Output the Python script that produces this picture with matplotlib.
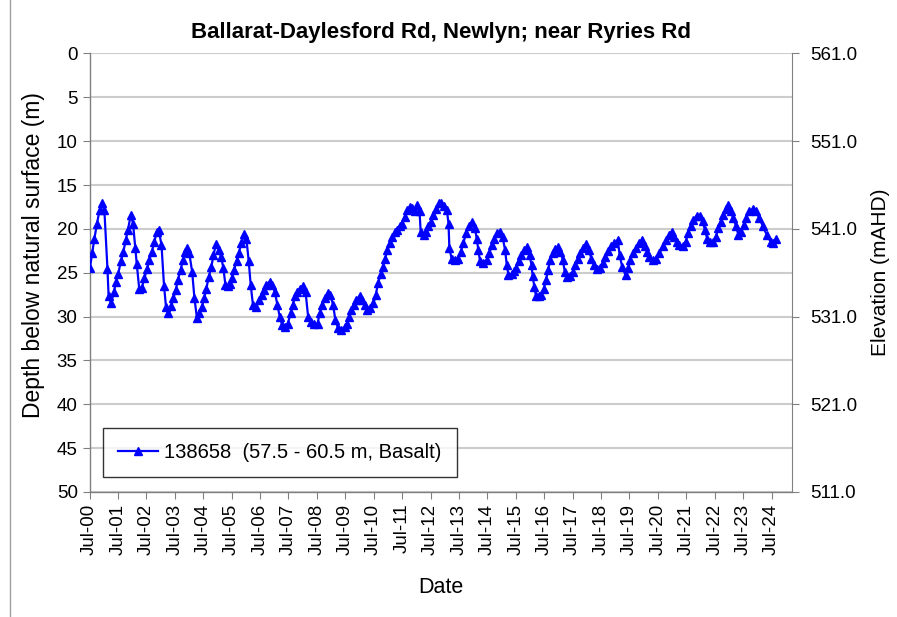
import matplotlib
matplotlib.use("Agg")
import matplotlib.pyplot as plt
import matplotlib.dates as mdates
import numpy as np
import pandas as pd

plt.rcParams['font.family'] = ['Liberation Sans', 'DejaVu Sans']

# Bore 138658 manual readings: decimal year, depth below natural surface (m)
dec_year = [
    2000.51, 2000.59, 2000.67, 2000.76, 2000.85, 2000.93, 2001.02, 2001.13, 2001.17, 2001.26,
    2001.35, 2001.43, 2001.51, 2001.60, 2001.69, 2001.77, 2001.85, 2001.95, 2002.03, 2002.11,
    2002.16, 2002.25, 2002.34, 2002.43, 2002.52, 2002.60, 2002.69, 2002.78, 2002.86, 2002.93,
    2003.03, 2003.12, 2003.19, 2003.26, 2003.37, 2003.45, 2003.53, 2003.61, 2003.70, 2003.78,
    2003.86, 2003.93, 2004.01, 2004.11, 2004.19, 2004.28, 2004.36, 2004.45, 2004.53, 2004.61,
    2004.69, 2004.78, 2004.86, 2004.95, 2005.04, 2005.13, 2005.21, 2005.28, 2005.36, 2005.43,
    2005.51, 2005.58, 2005.67, 2005.75, 2005.84, 2005.94, 2006.02, 2006.10, 2006.17, 2006.25,
    2006.37, 2006.45, 2006.55, 2006.64, 2006.72, 2006.84, 2006.93, 2007.02, 2007.11, 2007.19,
    2007.28, 2007.39, 2007.48, 2007.57, 2007.65, 2007.72, 2007.81, 2007.90, 2008.01, 2008.10,
    2008.19, 2008.28, 2008.40, 2008.52, 2008.60, 2008.69, 2008.78, 2008.89, 2008.97, 2009.07,
    2009.15, 2009.24, 2009.36, 2009.48, 2009.56, 2009.63, 2009.71, 2009.81, 2009.89, 2010.01,
    2010.10, 2010.18, 2010.27, 2010.38, 2010.49, 2010.57, 2010.65, 2010.75, 2010.82, 2010.90,
    2010.98, 2011.07, 2011.15, 2011.25, 2011.33, 2011.43, 2011.51, 2011.60, 2011.68, 2011.78,
    2011.86, 2011.94, 2012.03, 2012.11, 2012.15, 2012.25, 2012.34, 2012.42, 2012.51, 2012.60,
    2012.69, 2012.80, 2012.88, 2012.96, 2013.07, 2013.13, 2013.16, 2013.24, 2013.36, 2013.48,
    2013.56, 2013.65, 2013.75, 2013.85, 2013.97, 2014.06, 2014.12, 2014.18, 2014.24, 2014.36,
    2014.48, 2014.57, 2014.65, 2014.74, 2014.85, 2014.94, 2015.03, 2015.12, 2015.18, 2015.24,
    2015.36, 2015.44, 2015.51, 2015.60, 2015.69, 2015.78, 2015.89, 2015.98, 2016.05, 2016.09,
    2016.15, 2016.21, 2016.31, 2016.40, 2016.48, 2016.56, 2016.63, 2016.71, 2016.80, 2016.89,
    2016.99, 2017.07, 2017.15, 2017.22, 2017.30, 2017.42, 2017.50, 2017.59, 2017.68, 2017.77,
    2017.86, 2017.97, 2018.06, 2018.16, 2018.24, 2018.36, 2018.47, 2018.56, 2018.65, 2018.74,
    2018.85, 2018.97, 2019.09, 2019.15, 2019.24, 2019.36, 2019.45, 2019.53, 2019.62, 2019.73,
    2019.82, 2019.94, 2020.03, 2020.12, 2020.20, 2020.32, 2020.43, 2020.55, 2020.67, 2020.78,
    2020.89, 2020.99, 2021.08, 2021.16, 2021.25, 2021.37, 2021.47, 2021.56, 2021.65, 2021.74,
    2021.86, 2021.98, 2022.07, 2022.15, 2022.23, 2022.33, 2022.44, 2022.54, 2022.62, 2022.70,
    2022.80, 2022.89, 2022.98, 2023.06, 2023.15, 2023.25, 2023.33, 2023.41, 2023.51, 2023.60,
    2023.71, 2023.84, 2023.95, 2024.07, 2024.19, 2024.33, 2024.47, 2024.56, 2024.66,
]
depth_m = [
    24.5, 22.8, 21.1, 19.4, 17.9, 17.1, 17.8, 24.6, 27.7, 28.5,
    27.2, 26.1, 25.1, 23.7, 22.6, 21.3, 20.1, 18.4, 19.4, 22.2,
    24.0, 26.9, 26.7, 25.6, 24.6, 23.6, 22.6, 21.5, 20.3, 20.1,
    21.8, 26.5, 28.9, 29.6, 28.8, 27.9, 27.0, 25.8, 24.7, 23.6,
    22.6, 22.2, 22.8, 24.9, 27.9, 30.2, 29.6, 28.9, 27.9, 26.8,
    25.5, 24.4, 23.0, 21.7, 22.4, 23.2, 24.5, 26.4, 26.5, 26.3,
    25.6, 24.7, 23.7, 22.8, 21.6, 20.6, 21.2, 23.7, 26.4, 28.7,
    28.9, 28.1, 27.5, 27.0, 26.4, 26.0, 26.4, 27.2, 28.7, 30.0,
    31.0, 31.2, 30.8, 29.6, 28.7, 27.7, 27.2, 26.8, 26.5, 27.2,
    30.0, 30.6, 30.8, 30.8, 29.6, 28.7, 27.9, 27.3, 27.5, 28.7,
    30.4, 31.3, 31.5, 31.2, 30.8, 30.1, 29.3, 28.7, 28.1, 27.6,
    28.1, 28.7, 29.2, 29.0, 28.5, 27.5, 26.2, 25.1, 24.3, 23.4,
    22.4, 21.6, 20.9, 20.4, 20.1, 19.7, 19.4, 18.6, 17.8, 17.5,
    17.6, 18.0, 17.3, 18.0, 20.3, 20.7, 20.3, 19.7, 19.2, 18.4,
    17.7, 17.0, 17.1, 17.4, 17.8, 19.4, 22.2, 23.4, 23.6, 23.4,
    22.6, 21.6, 20.5, 19.7, 19.2, 19.9, 21.1, 22.4, 23.7, 23.9,
    23.5, 22.8, 21.8, 21.1, 20.5, 20.3, 20.9, 22.4, 24.1, 25.3,
    25.1, 24.8, 24.5, 23.7, 23.0, 22.4, 22.1, 23.0, 24.1, 25.4,
    26.6, 27.7, 27.7, 27.5, 26.8, 25.8, 24.7, 23.5, 22.8, 22.3,
    22.1, 22.6, 23.5, 24.9, 25.5, 25.4, 24.9, 24.1, 23.4, 22.8,
    22.2, 21.7, 22.4, 23.4, 24.1, 24.6, 24.5, 23.9, 23.2, 22.5,
    22.0, 21.6, 21.3, 23.0, 24.3, 25.3, 24.5, 23.5, 22.8, 22.2,
    21.6, 21.3, 21.9, 22.6, 23.2, 23.5, 23.4, 22.8, 22.0, 21.3,
    20.7, 20.3, 20.9, 21.5, 21.8, 21.9, 21.5, 20.5, 19.7, 19.0,
    18.5, 18.5, 19.1, 20.1, 21.1, 21.5, 21.5, 20.9, 19.9, 19.2,
    18.4, 17.7, 17.3, 18.0, 18.8, 19.7, 20.7, 20.3, 19.6, 18.8,
    18.0, 17.7, 18.0, 18.8, 19.7, 20.7, 21.5, 21.6, 21.2,
]

SURFACE_RL = 561.0  # natural surface elevation (mAHD)
bore_label = "138658  (57.5 - 60.5 m, Basalt)"

base = pd.Timestamp("2000-01-01")
dates = [base + pd.to_timedelta((y - 2000.0) * 365.25, unit="D") for y in dec_year]

fig = plt.figure(figsize=(8.97, 6.17), dpi=100)
ax = fig.add_axes([0.0998, 0.2026, 0.7828, 0.7107])

# chart-area border on the left edge
fig.add_artist(plt.Line2D([0.0112, 0.0112], [0, 1], transform=fig.transFigure,
                          color="#a0a0a0", linewidth=1.0))

ax.plot(dates, depth_m, color="#0000FF", linewidth=1.6, marker="^",
        markersize=5.5, label=bore_label, zorder=3)

ax.set_ylim(50, 0)
ax.set_yticks(np.arange(0, 51, 5))
ax.set_xlim(pd.Timestamp("2000-07-01"), pd.Timestamp("2025-03-16"))
ax.xaxis.set_major_locator(mdates.YearLocator(1, month=7, day=1))
ax.xaxis.set_major_formatter(mdates.DateFormatter("%b-%y"))
for lbl in ax.get_xticklabels():
    lbl.set_rotation(90)

ax.grid(axis="y", color="#cccccc", linewidth=1.5)
ax.set_axisbelow(True)
for side in ("top", "right"):
    ax.spines[side].set_visible(False)
for side in ("left", "bottom"):
    ax.spines[side].set_color("#808080")
    ax.spines[side].set_linewidth(1.0)

ax.tick_params(axis="both", direction="out", length=5, color="#808080",
               labelsize=13.5, labelcolor="black")
ax.set_xlabel("Date", fontsize=15.5, labelpad=16)
ax.set_ylabel("Depth below natural surface (m)", fontsize=16.5)
ax.yaxis.set_label_coords(-0.063, 0.54)
ax.set_title("Ballarat-Daylesford Rd, Newlyn; near Ryries Rd",
             fontsize=16, fontweight="bold", pad=11)

# elevation axis mirrors the depth axis
ax2 = ax.twinx()
ax2.set_ylim(SURFACE_RL - 50, SURFACE_RL)
ax2.set_yticks(np.arange(SURFACE_RL - 50, SURFACE_RL + 0.1, 10))
ax2.yaxis.set_major_formatter(matplotlib.ticker.FormatStrFormatter("%.1f"))
for side in ("top", "left", "bottom"):
    ax2.spines[side].set_visible(False)
ax2.spines["right"].set_color("#808080")
ax2.tick_params(axis="y", direction="out", length=5, color="#808080",
                labelsize=13.5, pad=8)
ax2.set_ylabel("Elevation (mAHD)", fontsize=15)
ax2.yaxis.set_label_coords(1.113, 0.5)

leg = ax.legend(loc="lower left", bbox_to_anchor=(0.019, 0.034), borderaxespad=0,
                fontsize=14.5, frameon=True, fancybox=False, handlelength=2.0,
                handletextpad=0.3, borderpad=0.75)
leg.get_frame().set_edgecolor("black")
leg.get_frame().set_linewidth(1.0)

fig.savefig("out.png", dpi=100)
